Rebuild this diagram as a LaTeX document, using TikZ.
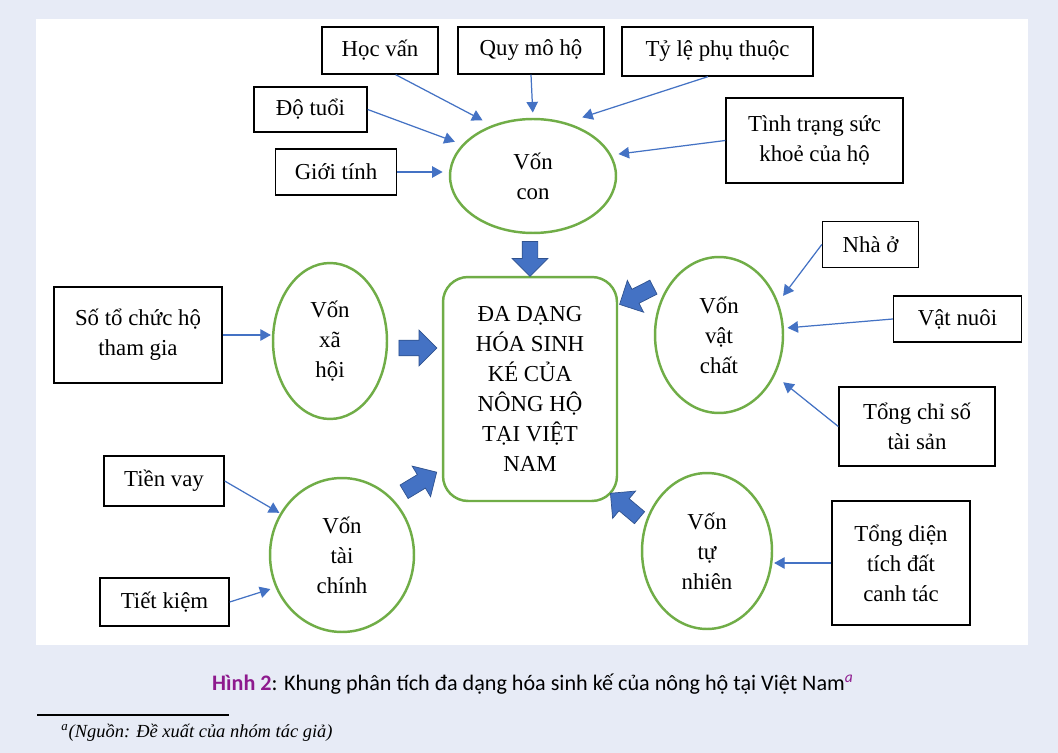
\documentclass[tikz,border=0pt]{standalone}
\usepackage{fontspec}
\setmainfont{Liberation Serif}
\newfontfamily\capfont{Carlito}
\usetikzlibrary{shapes.geometric,shapes.arrows,arrows.meta}
\definecolor{panelbg}{RGB}{231,235,246}
\definecolor{vongreen}{RGB}{112,173,71}
\definecolor{arrowblue}{RGB}{68,114,196}
\definecolor{arrowedge}{RGB}{47,82,143}
\definecolor{hinhpurple}{RGB}{142,26,142}

\begin{document}
\begin{tikzpicture}[x=0.02cm,y=-0.02cm,
 factor/.style={draw=black,line width=0.8pt,align=center,inner sep=0pt,font=\fontsize{13}{17}\selectfont},
 capital/.style={ellipse,draw=vongreen,line width=1.4pt,align=center,inner sep=0pt,font=\fontsize{13}{17}\selectfont},
 thinarrow/.style={arrowblue,line width=0.7pt,-{Triangle[length=6pt,width=6.5pt]}},
 bigarrow/.style={single arrow,fill=arrowblue,draw=arrowedge,line width=0.4pt,inner sep=0.15cm,
  single arrow head extend=0.2cm,minimum height=0.76cm}]
\fill[panelbg] (0,0) rectangle (1058,753); %page
\fill[white] (36,19) rectangle (1028,645); %panel

%centre
\node[draw=vongreen,line width=1.4pt,rounded corners=0.5cm,minimum width=3.48cm,minimum height=4.48cm,
 align=center,font=\fontsize{13}{17}\selectfont] (dadang) at (530,389)
 {ĐA DẠNG\\HÓA SINH\\KÉ CỦA\\NÔNG HỘ\\TẠI VIỆT\\NAM};

%capitals
\node[capital,minimum width=3.32cm,minimum height=2.28cm] (voncon) at (533,176) {Vốn\\con};
\node[capital,minimum width=2.28cm,minimum height=3.12cm] (xahoi) at (330,341) {Vốn\\xã\\hội};
\node[capital,minimum width=2.56cm,minimum height=3.12cm] (vatchat) at (719,335) {Vốn\\vật\\chất};
\node[capital,minimum width=2.6cm,minimum height=3.12cm] (tunhien) at (707,551) {Vốn\\tự\\nhiên};
\node[capital,minimum width=2.88cm,minimum height=3.08cm] (taichinh) at (342,555) {Vốn\\tài\\chính};

%factors
\node[factor,minimum width=2.32cm,minimum height=0.94cm] (hocvan) at (380,50.5) {Học vấn};
\node[factor,minimum width=2.92cm,minimum height=0.94cm] (quymo) at (531,50.5) {Quy mô hộ};
\node[factor,minimum width=3.82cm,minimum height=0.98cm] (tyle) at (717.5,51.5) {Tỷ lệ phụ thuộc};
\node[factor,minimum width=2.26cm,minimum height=0.9cm] (dotuoi) at (310.5,109.5) {Độ tuổi};
\node[factor,minimum width=2.42cm,minimum height=0.92cm] (gioitinh) at (336,172) {Giới tính};
\node[factor,minimum width=3.54cm,minimum height=1.7cm] (suckhoe) at (814.5,140.5) {Tình trạng sức\\khoẻ của hộ};
\node[factor,minimum width=1.92cm,minimum height=0.92cm] (nhao) at (870.5,244.5) {Nhà ở};
\node[factor,minimum width=2.56cm,minimum height=0.92cm] (vatnuoi) at (957.5,319) {Vật nuôi};
\node[factor,minimum width=3.12cm,minimum height=1.58cm] (taisan) at (917,426.5) {Tổng chỉ số\\tài sản};
\node[factor,minimum width=2.76cm,minimum height=2.48cm] (dientich) at (901,563) {Tổng diện\\tích đất\\canh tác};
\node[factor,minimum width=3.36cm,minimum height=1.92cm] (tochuc) at (138,335) {Số tổ chức hộ\\tham gia};
\node[factor,minimum width=2.4cm,minimum height=1cm] (tienvay) at (164,481) {Tiền vay};
\node[factor,minimum width=2.58cm,minimum height=0.96cm] (tietkiem) at (164.5,602) {Tiết kiệm};

%thin arrows
\draw[thinarrow,shorten >=6pt] (hocvan.-57) -- (voncon.129);
\draw[thinarrow,shorten >=3pt] (quymo.south) -- (voncon.north);
\draw[thinarrow,shorten >=9.5pt] (tyle.-111) -- (voncon.58);
\draw[thinarrow,shorten >=4.5pt] (dotuoi.east) -- (voncon.156);
\draw[thinarrow,shorten >=3.5pt] (gioitinh.east) -- (gioitinh.east -| voncon.west);
\draw[thinarrow,shorten >=4pt] (suckhoe.west) -- (voncon.15);
\draw[thinarrow,shorten >=0.5pt] (tochuc.east) -- (tochuc.east -| xahoi.west);
\draw[thinarrow,shorten >=0.5pt] (tienvay.east) -- (taichinh.146);
\draw[thinarrow,shorten >=3pt] (tietkiem.east) -- (taichinh.206);
\draw[thinarrow,shorten >=4.5pt] (nhao.west) -- (vatchat.29);
\draw[thinarrow,shorten >=2pt] (vatnuoi.west) -- (vatchat.6);
\draw[thinarrow,shorten >=6pt] (taisan.west) -- (vatchat.-36);
\draw[thinarrow,shorten >=0.5pt] (dientich.west) -- (dientich.west -| tunhien.east);

%block arrows
\node[bigarrow,rotate=-90,minimum height=0.7cm] (fromcon) at (530,255) {};
\node[bigarrow] (fromxahoi) at (414,348) {};
\node[bigarrow,rotate=207] (fromvatchat) at (640,294) {};
\node[bigarrow,rotate=31] (fromtaichinh) at (417,484) {};
\node[bigarrow,rotate=140] (fromtunhien) at (628,508) {};

%caption and footnote
\node[font=\capfont\fontsize{12.6}{15}\selectfont] (caption) at (533,684)
 {\textcolor{hinhpurple}{\bfseries Hình 2}: Khung phân tích đa dạng hóa sinh kế của nông hộ tại Việt Nam\textcolor{hinhpurple}{\textsuperscript{\itshape a}}};
\draw[line width=0.6pt] (37,715) -- (229,715); %rule
\node[anchor=west,inner sep=0pt,font=\fontsize{10.5}{13}\selectfont\itshape] (nguon) at (61,733)
 {\textsuperscript{a}(Nguồn: Đề xuất của nhóm tác giả)};
\end{tikzpicture}
\end{document}
